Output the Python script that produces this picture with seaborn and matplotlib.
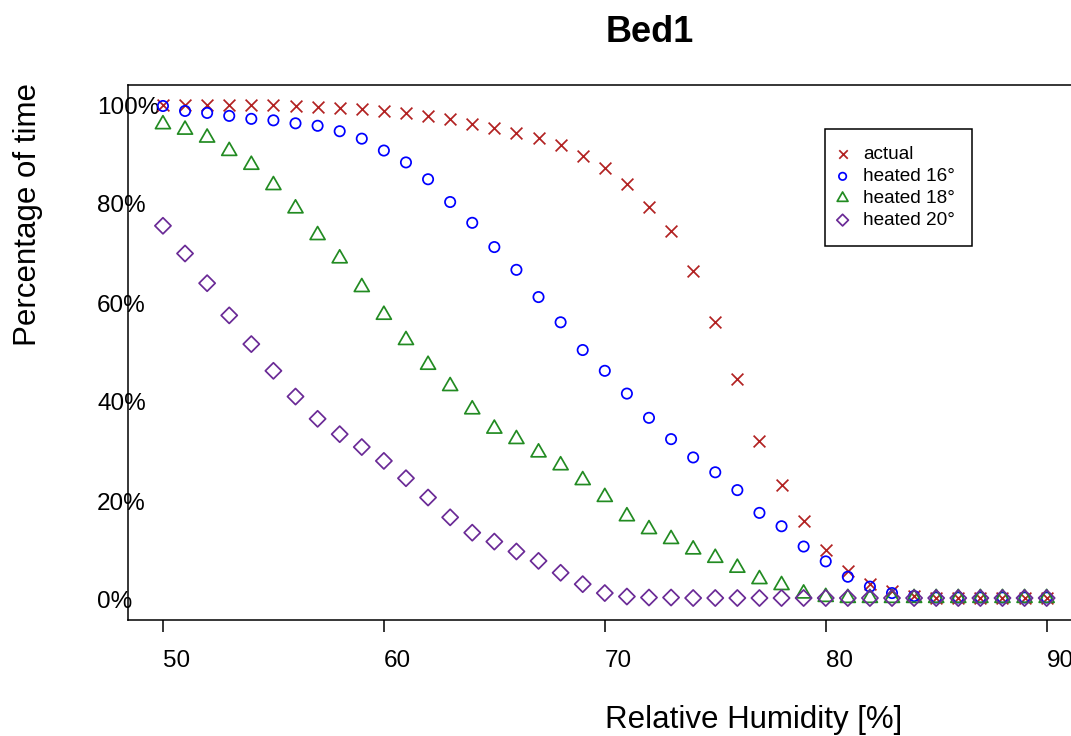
import numpy as np
import pandas as pd
import matplotlib
matplotlib.use("Agg")
import matplotlib.pyplot as plt
from matplotlib.path import Path
import seaborn as sns

# ---------------- data ----------------
humidity = list(range(50, 91))

actual = [100, 100, 100, 100, 100, 100, 99.8, 99.6, 99.4, 99.1,
          98.8, 98.4, 97.8, 97.1, 96.2, 95.3, 94.3, 93.4, 91.9, 89.6,
          87.2, 84.0, 79.3, 74.5, 66.4, 56.2, 44.6, 32.2, 23.2, 15.9,
          10.1, 5.9, 3.2, 1.8, 0.8, 0.5, 0.5, 0.5, 0.5, 0.5, 0.5]

heated16 = [99.8, 98.8, 98.4, 97.8, 97.2, 96.9, 96.3, 95.8, 94.7, 93.2,
            90.8, 88.4, 85.0, 80.4, 76.2, 71.3, 66.7, 61.2, 56.1, 50.5,
            46.3, 41.7, 36.8, 32.5, 28.8, 25.8, 22.2, 17.6, 14.9, 10.8,
            7.8, 4.7, 2.7, 1.4, 0.8, 0.5, 0.5, 0.5, 0.5, 0.5, 0.5]

heated18 = [96.1, 95.0, 93.4, 90.7, 87.9, 83.8, 79.1, 73.7, 69.0, 63.2,
            57.6, 52.5, 47.5, 43.2, 38.5, 34.6, 32.5, 29.8, 27.2, 24.2,
            20.8, 16.9, 14.3, 12.3, 10.2, 8.5, 6.5, 4.2, 3.0, 1.3,
            0.6, 0.4, 0.4, 0.4, 0.4, 0.4, 0.4, 0.4, 0.4, 0.4, 0.4]

heated20 = [75.6, 70.0, 64.0, 57.5, 51.7, 46.3, 41.1, 36.6, 33.5, 30.9,
            28.1, 24.6, 20.7, 16.7, 13.6, 11.8, 9.8, 7.9, 5.5, 3.2,
            1.4, 0.7, 0.5, 0.5, 0.4, 0.4, 0.4, 0.4, 0.4, 0.4,
            0.4, 0.4, 0.4, 0.4, 0.4, 0.4, 0.4, 0.4, 0.4, 0.4, 0.4]

series_names = ["actual", "heated 16\u00b0", "heated 18\u00b0", "heated 20\u00b0"]
series_values = [actual, heated16, heated18, heated20]
series_colors = ["#B22222", "#0000FF", "#228B22", "#6A2A96"]

x_ticks = [50, 60, 70, 80, 90]
y_ticks = [0, 20, 40, 60, 80, 100]
y_tick_labels = ["0%", "20%", "40%", "60%", "80%", "100%"]

title = "Bed1"
x_label = "Relative Humidity [%]"
y_label = "Percentage of time"

# ---------------- style ----------------
sns.set_theme(style="white")
plt.rcParams["font.family"] = ["Liberation Sans", "DejaVu Sans"]

W, H = 1071, 736
fig = plt.figure(figsize=(W / 100, H / 100), dpi=100)
ax_l, ax_r, ax_t, ax_b = 127.6, 1082.0, 85.2, 619.8
ax = fig.add_axes([ax_l / W, 1 - ax_b / H, (ax_r - ax_l) / W, (ax_b - ax_t) / H])

tri = Path([(0, 1.555), (1.3468, -0.7776), (-1.3468, -0.7776), (0, 1.555)],
           [Path.MOVETO, Path.LINETO, Path.LINETO, Path.CLOSEPOLY])
diamond = Path([(0, 1), (1, 0), (0, -1), (-1, 0), (0, 1)],
               [Path.MOVETO, Path.LINETO, Path.LINETO, Path.LINETO, Path.CLOSEPOLY])

markers = ["x", "o", tri, diamond]
sizes = [72, 55, 155, 135]
lw = 1.25

df = pd.DataFrame({"humidity": humidity})
for name, vals in zip(series_names, series_values):
    df[name] = vals

for name, mk, sz, col in zip(series_names, markers, sizes, series_colors):
    if mk == "x":
        sns.scatterplot(data=df, x="humidity", y=name, marker=mk, s=sz,
                        color=col, linewidth=lw, ax=ax, label=name)
    else:
        sns.scatterplot(data=df, x="humidity", y=name, marker=mk, s=sz,
                        color=col, facecolor="none", edgecolor=col,
                        linewidth=lw, ax=ax, label=name)

ax.set_xlim(48.4, 91.6)
ax.set_ylim(-4, 104)

ax.set_xticks(x_ticks)
ax.set_yticks(y_ticks)
ax.set_yticklabels(y_tick_labels)

for side in ["left", "bottom", "top"]:
    ax.spines[side].set_visible(True)
    ax.spines[side].set_color("black")
    ax.spines[side].set_linewidth(1.1)
ax.spines["right"].set_visible(False)

ax.tick_params(axis="x", which="both", bottom=True, direction="out",
               length=8.6, width=1.1, pad=13, labelsize=17.5, colors="black")
ax.tick_params(axis="y", which="both", left=False, length=0, pad=22,
               labelsize=17.5, labelcolor="black")
for lab in ax.get_yticklabels():
    lab.set_horizontalalignment("left")
for lab in ax.get_xticklabels():
    lab.set_horizontalalignment("left")

ax.grid(False)

# labels
ax.set_xlabel(x_label, fontsize=22.5, color="black")
ax.set_ylabel(y_label, fontsize=22.5, color="black")
axw, axh = ax_r - ax_l, ax_b - ax_t
ax.xaxis.set_label_coords((754 - ax_l) / axw, (ax_b - 728) / axh)
ax.xaxis.label.set_verticalalignment("baseline")
ax.yaxis.set_label_coords((43.4 - ax_l) / axw, (ax_b - 215) / axh)

ax.set_title(title, fontsize=26, fontweight="bold", color="black",
             x=(650 - ax_l) / axw, y=(ax_b - 42) / axh, pad=0)
ax.title.set_verticalalignment("baseline")

leg = ax.legend(loc="upper left", bbox_to_anchor=(825 / W, 1 - 129 / H),
                bbox_transform=fig.transFigure, borderaxespad=0,
                frameon=True, fancybox=False, framealpha=1, edgecolor="black",
                fontsize=13.7, borderpad=0.9, handlelength=0.05,
                handletextpad=1.06, labelspacing=0.24, markerscale=0.72,
                scatterpoints=1)
leg.get_frame().set_linewidth(1.1)
for t in leg.get_texts():
    t.set_color("black")

fig.savefig("out.png", dpi=100)
